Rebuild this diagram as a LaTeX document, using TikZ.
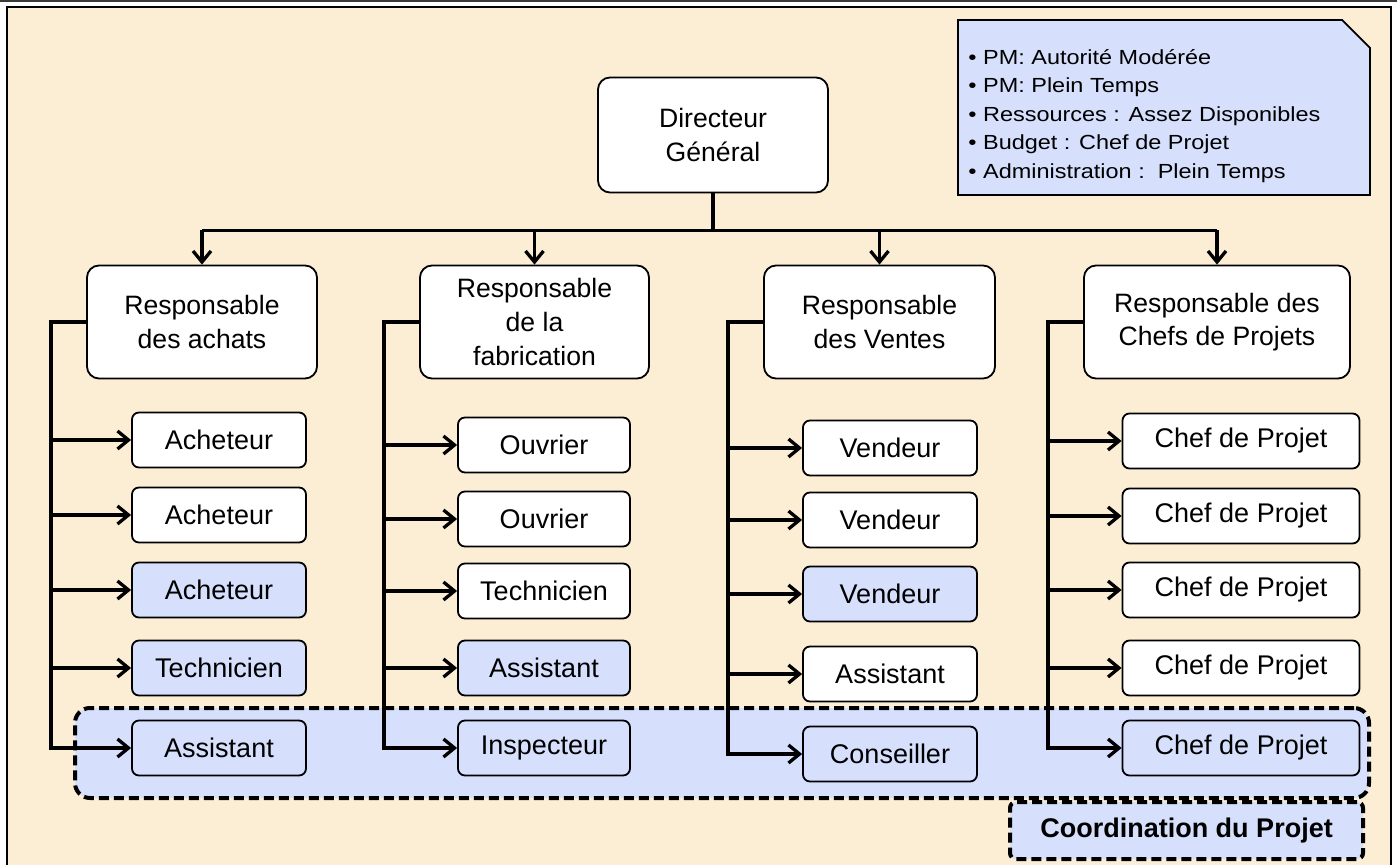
\documentclass[tikz,border=0pt]{standalone}
\usepackage{fontspec}
\setmainfont{Liberation Sans}
\newfontfamily\notefont[FakeStretch=1.15]{Liberation Sans}
\usepackage{tikz}
\usetikzlibrary{arrows.meta,positioning,calc}
\definecolor{paper}{HTML}{FCEED5}
\definecolor{bluepale}{HTML}{D6E0FC}
\definecolor{frame}{HTML}{3A3A3A}

\begin{document}
\begin{tikzpicture}[x=0.5pt,y=-0.5pt,>={Straight Barb[length=5.5pt,width=9pt]},
  boss/.style={draw,line width=0.9pt,fill=white,rounded corners=6pt,align=center,
    minimum height=56.5pt,font=\fontsize{13.3}{16.8}\selectfont},
  role/.style={draw,line width=0.9pt,fill=white,rounded corners=3.5pt,
    minimum width=87pt,minimum height=27.5pt,font=\fontsize{13.5}{15}\selectfont},
  proj/.style={fill=bluepale},
  link/.style={line width=1.65pt},
  arrow/.style={->,line width=1.65pt},
  band/.style={draw,line width=2pt,dash pattern=on 5pt off 2.5pt,fill=bluepale,rounded corners=7.5pt},
  tag/.style={draw,line width=2pt,dash pattern=on 5pt off 2.5pt,fill=bluepale,rounded corners=3pt,
    minimum width=176.5pt,minimum height=28.5pt,font=\fontsize{13.5}{16}\selectfont\bfseries}]
  \useasboundingbox (0,0) rectangle (1397,865);
  % page
  \fill[paper] (7,7) rectangle (1391,865);
  \draw[line width=1pt] (7,865) -- (7,7) -- (1391,7) -- (1391,865);
  \draw[line width=1pt,frame] (0,1) -- (1397,1);
  % legend
  \draw[line width=0.9pt,fill=bluepale] (958,20) -- (1342,20) -- (1370,48) -- (1370,195) -- (958,195) -- cycle;
  \node[anchor=west,align=left,inner sep=0pt,font=\notefont\fontsize{10.2}{14.25}\selectfont] (notes) at (968,116)
    {• PM: Autorité Modérée\\• PM: Plein Temps\\• Ressources : Assez Disponibles\\• Budget : Chef de Projet\\• Administration :\ \ Plein Temps};
  % project band
  \node[band,minimum width=647pt,minimum height=45pt] (band) at (722,753) {};
  \node[tag,anchor=north east] (coord) at ($(band.south east)+(-6,0)$) {Coordination du Projet};
  % top of the tree
  \node[boss,minimum width=115pt,minimum height=57.5pt] (dg) at (713,135) {Directeur\\Général};
  \node[boss,minimum width=115pt] (achats) at (202,322) {Responsable\\des achats};
  \node[boss,minimum width=114.5pt] (fab) at (534.5,322) {Responsable\\de la\\fabrication};
  \node[boss,minimum width=115.5pt] (ventes) at (879.5,322) {Responsable\\des Ventes};
  \node[boss,minimum width=133pt] (chefs) at (1217,322) {Responsable des\\Chefs de Projets};
  % achats
  \node[role] (a1) at (219,440) {Acheteur};
  \node[role] (a2) at (219,515) {Acheteur};
  \node[role,proj] (a3) at (219,590) {Acheteur};
  \node[role,proj] (a4) at (219,668) {Technicien};
  \node[role,proj] (a5) at (219,748) {Assistant};
  % fabrication
  \node[role,minimum width=86pt] (f1) at (544,445) {Ouvrier};
  \node[role,minimum width=86pt] (f2) at (544,519) {Ouvrier};
  \node[role,minimum width=86pt] (f3) at (544,591) {Technicien};
  \node[role,proj,minimum width=86pt] (f4) at (544,668) {Assistant};
  \node[role,proj,minimum width=86pt] (f5) at (544,748) {Inspecteur};
  % ventes
  \node[role] (v1) at (890,448) {Vendeur};
  \node[role] (v2) at (890,520) {Vendeur};
  \node[role,proj] (v3) at (890,594) {Vendeur};
  \node[role] (v4) at (890,674) {Assistant};
  \node[role,proj] (v5) at (890,754) {Conseiller};
  % chefs de projets
  \node[role,minimum width=118.5pt] (c1) at (1241,441) {Chef de Projet};
  \node[role,minimum width=118.5pt] (c2) at (1241,516) {Chef de Projet};
  \node[role,minimum width=118.5pt] (c3) at (1241,590) {Chef de Projet};
  \node[role,minimum width=118.5pt] (c4) at (1241,668) {Chef de Projet};
  \node[role,proj,minimum width=118.5pt] (c5) at (1241,748) {Chef de Projet};
  % links
  \draw[link] (dg.south) -- ++(0,37) coordinate (split);
  \draw[link] (achats.north |- split) -- (chefs.north |- split);
  \foreach \n in {achats,fab,ventes,chefs}
    \draw[arrow] (\n.north |- split) -- (\n.north);
  \foreach \p/\r in {achats/a,fab/f,ventes/v,chefs/c}{
    \draw[arrow] (\p.west) -- ++(-35,0) coordinate (\r0) |- (\r5.west);
    \foreach \i in {1,...,4}
      \draw[arrow] (\r0 |- \r\i.west) -- (\r\i.west);
  }
\end{tikzpicture}
\end{document}
